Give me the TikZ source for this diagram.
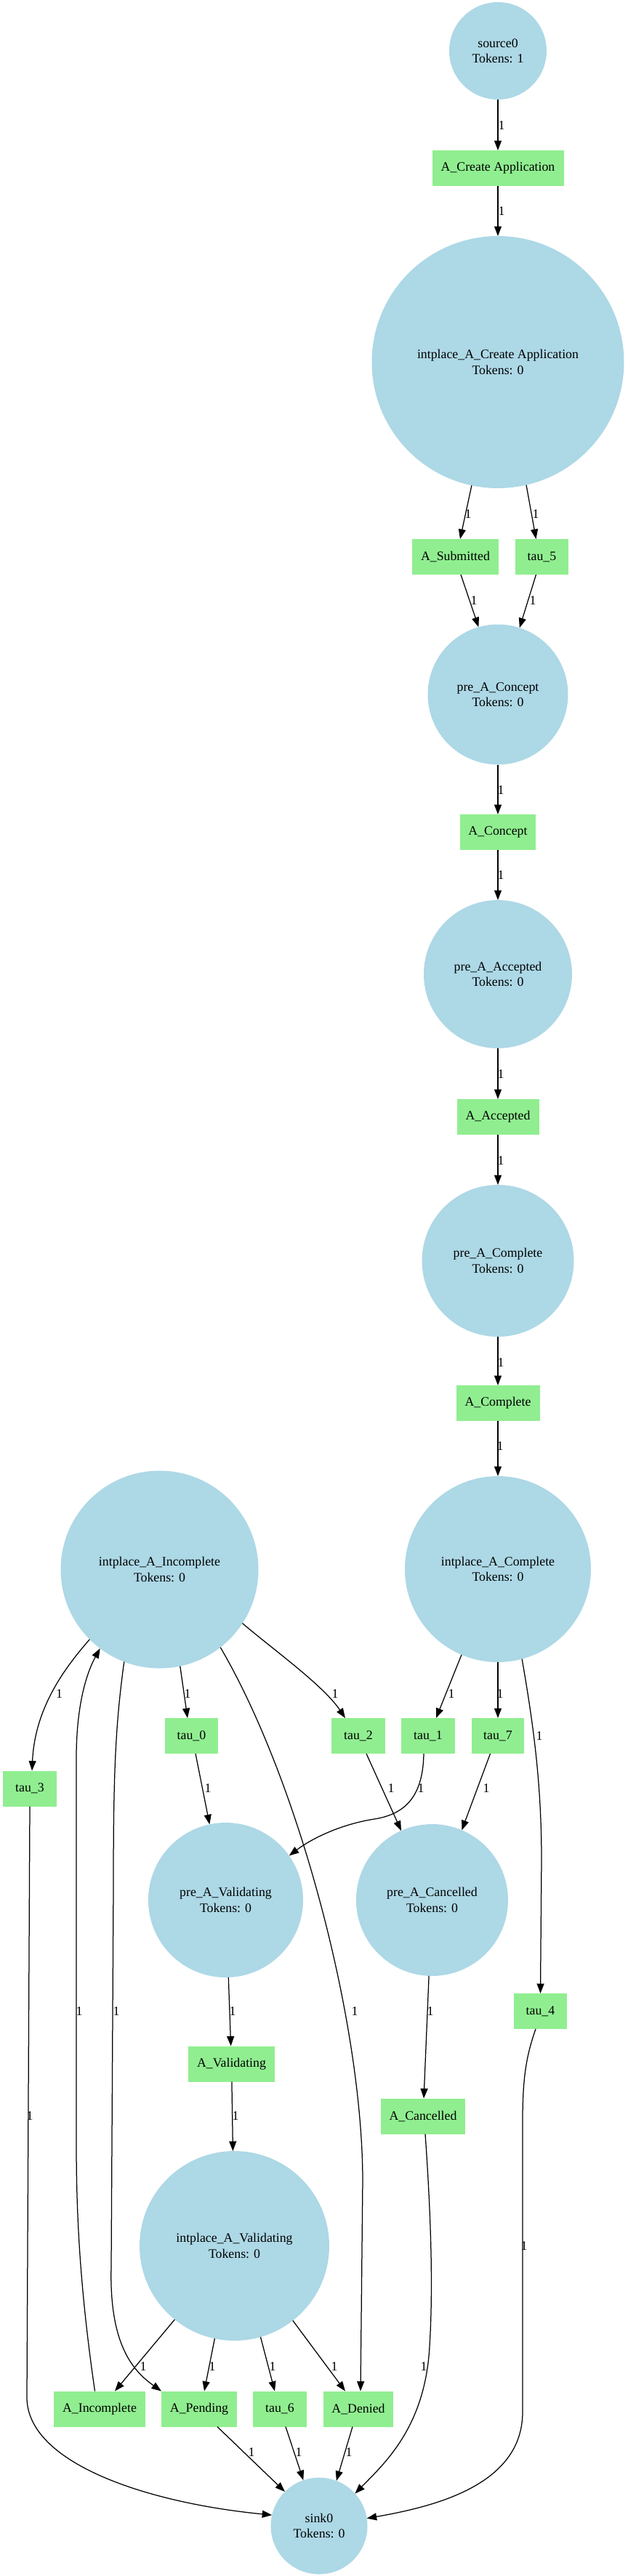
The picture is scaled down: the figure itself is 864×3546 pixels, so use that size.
\documentclass[tikz,border=0pt]{standalone}
\usepackage{fontspec}
\setmainfont{Liberation Serif}
\usetikzlibrary{arrows.meta}
\definecolor{lblue}{RGB}{173,216,230}
\definecolor{lgreen}{RGB}{144,238,144}
\newcommand{\gfont}{\fontsize{17.8pt}{21.5pt}\selectfont}
\tikzset{
  place/.style={circle, fill=lblue, draw=none, inner sep=0pt, outer sep=0pt, align=center, font=\gfont},
  trans/.style={rectangle, fill=lgreen, draw=none, minimum height=49pt, inner sep=0pt, outer sep=0pt, font=\gfont},
  conn/.style={draw=black, line width=1.25pt, -{Triangle[length=13.5pt,width=10pt]}},
  lbl/.style={font=\gfont, inner sep=0pt}
}
\begin{document}
\begin{tikzpicture}[x=1pt,y=-1pt]
\useasboundingbox (0,0) rectangle (864,3546);
% places
\node[place, minimum size=134pt] (source0) at (685,70) {source0\\Tokens: 1};
\node[place, minimum size=347pt] (pACA) at (685,498.5) {intplace\_A\_Create Application\\Tokens: 0};
\node[place, minimum size=193pt] (pConcept) at (685,956) {pre\_A\_Concept\\Tokens: 0};
\node[place, minimum size=204pt] (pAccepted) at (685,1341) {pre\_A\_Accepted\\Tokens: 0};
\node[place, minimum size=209pt] (pComplete) at (685,1735.5) {pre\_A\_Complete\\Tokens: 0};
\node[place, minimum size=256pt] (pAComplete) at (685,2160) {intplace\_A\_Complete\\Tokens: 0};
\node[place, minimum size=272pt] (pAIncomplete) at (219.5,2160.5) {intplace\_A\_Incomplete\\Tokens: 0};
\node[place, minimum size=213pt] (pValidating) at (310.5,2615.5) {pre\_A\_Validating\\Tokens: 0};
\node[place, minimum size=209pt] (pCancelled) at (594.5,2615.5) {pre\_A\_Cancelled\\Tokens: 0};
\node[place, minimum size=261pt] (pAValidating) at (322.5,3091.5) {intplace\_A\_Validating\\Tokens: 0};
\node[place, minimum size=133pt] (sink0) at (439,3477) {sink0\\Tokens: 0};
% transitions
\node[trans, minimum width=181pt] (tACA) at (685,231.5) {A\_Create Application};
\node[trans, minimum width=119pt] (tSub) at (626.5,766.5) {A\_Submitted};
\node[trans, minimum width=73pt] (tau5) at (745.5,766.5) {tau\_5};
\node[trans, minimum width=104pt] (tConcept) at (685,1145.5) {A\_Concept};
\node[trans, minimum width=113pt] (tAccepted) at (685,1537.5) {A\_Accepted};
\node[trans, minimum width=115pt] (tComplete) at (685,1931.5) {A\_Complete};
\node[trans, minimum width=73pt] (tau0) at (263.5,2389.5) {tau\_0};
\node[trans, minimum width=74pt] (tau2) at (493,2389.5) {tau\_2};
\node[trans, minimum width=74pt] (tau1) at (589,2389.5) {tau\_1};
\node[trans, minimum width=72pt] (tau7) at (685,2389.5) {tau\_7};
\node[trans, minimum width=74pt] (tau3) at (41,2462) {tau\_3};
\node[trans, minimum width=73pt] (tau4) at (743.5,2768.5) {tau\_4};
\node[trans, minimum width=119pt] (tValidating) at (318.5,2841) {A\_Validating};
\node[trans, minimum width=116pt] (tCancelled) at (582,2913) {A\_Cancelled};
\node[trans, minimum width=126pt] (tIncomplete) at (137,3316) {A\_Incomplete};
\node[trans, minimum width=104pt] (tPending) at (274,3316) {A\_Pending};
\node[trans, minimum width=74pt] (tau6) at (385,3316) {tau\_6};
\node[trans, minimum width=96pt] (tDenied) at (493,3316) {A\_Denied};
% arcs
\draw[conn] (source0) -- (tACA);
\draw[conn] (tACA) -- (pACA);
\draw[conn] (pACA.-102.4) -- ([xshift=6.5pt]tSub.north);
\draw[conn] (pACA.-77.4) -- ([xshift=-8pt]tau5.north);
\draw[conn] ([xshift=7.5pt]tSub.south) -- (pConcept.106.6);
\draw[conn] ([xshift=-8pt]tau5.south) -- (pConcept.72.6);
\draw[conn] (pConcept) -- (tConcept);
\draw[conn] (tConcept) -- (pAccepted);
\draw[conn] (pAccepted) -- (tAccepted);
\draw[conn] (tAccepted) -- (pComplete);
\draw[conn] (pComplete) -- (tComplete);
\draw[conn] (tComplete) -- (pAComplete);
\draw[conn] (pAComplete.-113) -- ([xshift=11pt]tau1.north);
\draw[conn] (pAComplete) -- (tau7);
\draw[conn] (pAComplete.-75.6) .. controls (735,2380) and (745,2460) .. (745,2560) -- (tau4.north);
\draw[conn] (pAIncomplete.-135.6) .. controls (90,2295) and (48,2350) .. ([xshift=3pt]tau3.north);
\draw[conn] (pAIncomplete.-78.8) -- ([xshift=-5.5pt]tau0.north);
\draw[conn] (pAIncomplete.-33.4) .. controls (375,2270) and (445,2320) .. ([xshift=-18pt]tau2.north);
\draw[conn] (pAIncomplete.-111) .. controls (158,2380) and (156,2450) .. (156,2600) -- (153,3120) .. controls (150,3230) and (185,3265) .. (tPending.north west);
\draw[conn] ([xshift=-6.5pt]tIncomplete.north) .. controls (110,3150) and (105,3050) .. (105,2950) -- (105,2420) .. controls (105,2350) and (118,2305) .. (pAIncomplete.-127);
\draw[conn] (pAIncomplete.-52.7) .. controls (410,2450) and (498,2780) .. (499,3000) -- ([xshift=3pt]tDenied.north);
\draw[conn] (tau3.south) -- (37,3300) .. controls (37,3390) and (200,3445) .. (sink0.167);
\draw[conn] ([xshift=5.5pt]tau0.south) -- (pValidating.102.8);
\draw[conn] ([xshift=11pt]tau2.south) -- (pCancelled.114);
\draw[conn] ([xshift=-6pt]tau1.south) .. controls (582,2470) and (560,2497) .. (515,2504) .. controls (470,2511) and (430,2530) .. (pValidating.35.2);
\draw[conn] ([xshift=-10.5pt]tau7.south) -- (pCancelled.67.2);
\draw[conn] (pValidating) -- (tValidating);
\draw[conn] (tValidating) -- (pAValidating);
\draw[conn] (pCancelled) -- (tCancelled);
\draw[conn] ([xshift=3pt]tCancelled.south) .. controls (593,3050) and (596,3150) .. (591,3230) .. controls (585,3340) and (530,3390) .. (sink0.42);
\draw[conn] ([xshift=-6.5pt]tau4.south) .. controls (724,2830) and (719,2860) .. (719,2920) -- (719,3320) .. controls (719,3420) and (600,3450) .. (sink0.9);
\draw[conn] (pAValidating.-129) -- ([xshift=21pt]tIncomplete.north);
\draw[conn] (pAValidating.-102) -- ([xshift=7pt]tPending.north);
\draw[conn] (pAValidating.-74) -- ([xshift=-7pt]tau6.north);
\draw[conn] (pAValidating.-52.7) -- ([xshift=-18pt]tDenied.north);
\draw[conn] ([xshift=25pt]tPending.south) -- (sink0.135.6);
\draw[conn] ([xshift=8pt]tau6.south) -- (sink0.109.5);
\draw[conn] ([xshift=-8pt]tDenied.south) -- (sink0.69.7);
% arc weights
\node[lbl] (l1) at (690,173) {1};
\node[lbl] (l2) at (690,291) {1};
\node[lbl] (l3) at (644,708) {1};
\node[lbl] (l4) at (737,708) {1};
\node[lbl] (l5) at (652,827) {1};
\node[lbl] (l6) at (733,827) {1};
\node[lbl] (l7) at (689,1088) {1};
\node[lbl] (l8) at (689,1205) {1};
\node[lbl] (l9) at (689,1479) {1};
\node[lbl] (l10) at (689,1598) {1};
\node[lbl] (l11) at (689,1876) {1};
\node[lbl] (l12) at (688,1991) {1};
\node[lbl] (l16) at (81.5,2332) {1};
\node[lbl] (l17) at (258,2332) {1};
\node[lbl] (l18) at (461,2332) {1};
\node[lbl] (l13) at (621,2332) {1};
\node[lbl] (l14) at (688,2332) {1};
\node[lbl] (l15) at (742,2390) {1};
\node[lbl] (l23) at (286,2462) {1};
\node[lbl] (l24) at (538,2462) {1};
\node[lbl] (l25) at (579,2462) {1};
\node[lbl] (l26) at (669,2462) {1};
\node[lbl] (l21) at (109,2769) {1};
\node[lbl] (l19) at (160,2769) {1};
\node[lbl] (l27) at (320,2769) {1};
\node[lbl] (l20) at (488,2769) {1};
\node[lbl] (l29) at (592,2769) {1};
\node[lbl] (l22) at (41,2913) {1};
\node[lbl] (l28) at (324,2913) {1};
\node[lbl] (l31) at (721,3092) {1};
\node[lbl] (l32) at (197,3258) {1};
\node[lbl] (l33) at (292,3258) {1};
\node[lbl] (l34) at (375,3258) {1};
\node[lbl] (l35) at (460,3258) {1};
\node[lbl] (l30) at (583,3258) {1};
\node[lbl] (l36) at (346,3376) {1};
\node[lbl] (l37) at (411,3376) {1};
\node[lbl] (l38) at (480,3376) {1};
\end{tikzpicture}
\end{document}
